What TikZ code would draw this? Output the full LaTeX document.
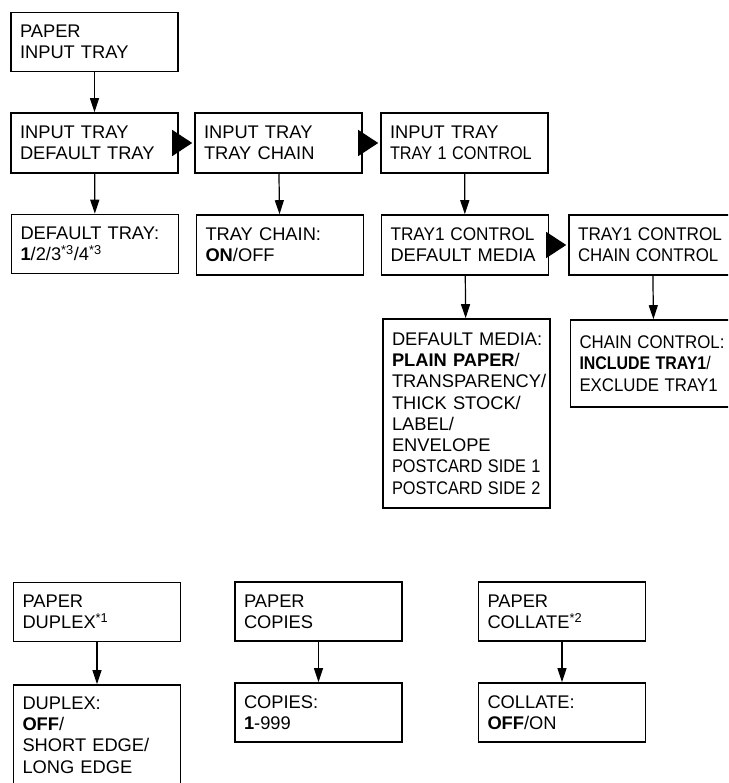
\documentclass[tikz,border=0pt]{standalone}
\usepackage{fontspec}
\setmainfont{Liberation Sans}
\usetikzlibrary{arrows.meta}
\hyphenpenalty=10000
\newcommand{\squeeze}[2][0.9]{\scalebox{#1}[1]{#2}}

\begin{document}
\begin{tikzpicture}[x=1pt,y=-1pt,
  font=\fontsize{18.3}{21.3}\selectfont,
  menubox/.style={draw=black,line width=1.6pt,rectangle,align=left,
    text width=149pt,inner xsep=9pt,inner ysep=0pt,minimum height=#1},
  menubox/.default=59pt,
  down/.style={draw=black,line width=1.2pt,-{Triangle[width=9pt,length=14pt]}},
  next/.style={draw=black,line width=1.2pt,-{Triangle[width=26pt,length=20pt]},
    shorten <=-5pt,shorten >=2pt}]
\clip (0,0) rectangle (728,783);
% input tray menu:
\node[menubox] (papertray) at (94.5,42) {PAPER\\INPUT~TRAY};
\node[menubox=60pt] (defaulttray) at (94.5,143) {INPUT~TRAY\\DEFAULT~TRAY};
\node[menubox=60pt] (traychain) at (278.5,143) {INPUT~TRAY\\TRAY~CHAIN};
\node[menubox=60pt] (tray1control) at (464.5,143) {INPUT~TRAY\\\squeeze[0.89]{TRAY~1~CONTROL}};
\node[menubox] (defaulttrayval) at (95,244) {DEFAULT~TRAY:\\\textbf{1}/2/3\textsuperscript{*3}/4\textsuperscript{*3}};
\node[menubox=60pt] (traychainval) at (280,245) {TRAY~CHAIN:\\\textbf{ON}/OFF};
\node[menubox=60pt] (defaultmedia) at (465,245) {\squeeze[0.94]{TRAY1~CONTROL}\\DEFAULT~MEDIA};
\node[menubox=60pt] (chaincontrol) at (652.5,245) {\squeeze[0.94]{TRAY1~CONTROL}\\\squeeze[0.92]{CHAIN~CONTROL}};
\node[menubox=189pt] (defaultmediaval) at (466.5,413.5) {DEFAULT~MEDIA:\\\textbf{PLAIN~PAPER}/\\TRANSPARENCY/\\THICK~STOCK/\\LABEL/\\ENVELOPE\\\squeeze[0.89]{POSTCARD~SIDE~1}\\\squeeze[0.89]{POSTCARD~SIDE~2}};
\node[menubox=87pt] (chaincontrolval) at (654,363.5) {\squeeze[0.92]{CHAIN~CONTROL:}\\\squeeze[0.87]{\textbf{INCLUDE~TRAY1}/}\\\squeeze[0.92]{EXCLUDE~TRAY1}};
% duplex, copies and collate menus:
\node[menubox] (paperduplex) at (97,612) {PAPER\\DUPLEX\textsuperscript{*1}};
\node[menubox=100pt] (duplexval) at (97,735) {DUPLEX:\\\textbf{OFF}/\\SHORT~EDGE/\\LONG~EDGE};
\node[menubox] (papercopies) at (318.5,611.5) {PAPER\\COPIES};
\node[menubox] (copiesval) at (318.5,712.5) {COPIES:\\\textbf{1}-999};
\node[menubox] (papercollate) at (562,611.5) {PAPER\\COLLATE\textsuperscript{*2}};
\node[menubox] (collateval) at (562,712.5) {COLLATE:\\\textbf{OFF}/ON};
% connectors:
\draw[down] (papertray) -- (defaulttray);
\draw[down] (defaulttray) -- (defaulttrayval);
\draw[down] (traychain) -- (traychainval);
\draw[down] (tray1control) -- (defaultmedia);
\draw[down] (defaultmedia) -- (defaultmediaval);
\draw[down] (chaincontrol) -- (chaincontrolval);
\draw[down] (paperduplex) -- (duplexval);
\draw[down] (papercopies) -- (copiesval);
\draw[down] (papercollate) -- (collateval);
\draw[next] (defaulttray) -- (traychain);
\draw[next] (traychain) -- (tray1control);
\draw[next] (defaultmedia) -- (chaincontrol);
\end{tikzpicture}
\end{document}
